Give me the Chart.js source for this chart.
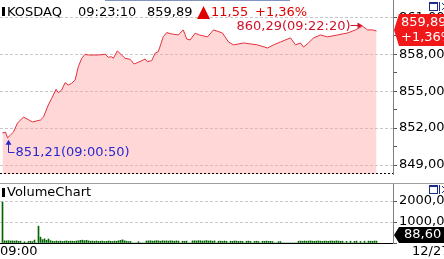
<!DOCTYPE html>
<html>
<head>
<meta charset="utf-8">
<title>KOSDAQ</title>
<script src="https://cdn.jsdelivr.net/npm/chart.js@4/dist/chart.umd.min.js"></script>
<style>
  html, body { margin: 0; padding: 0; background: #fff; overflow: hidden; }
  canvas { display: block; }
</style>
</head>
<body>
<canvas id="priceChart" width="444" height="183"></canvas>
<canvas id="volumeChart" width="444" height="76"></canvas>
<script>
// KOSDAQ intraday snapshot
const indexName = 'KOSDAQ';
const lastTime = '09:23:10';
const lastPrice = 859.89;
const change = 11.55;
const changePct = 1.36;
const startLabel = '09:00';
const dateLabel = '12/27';
const highTime = '09:22:20';
const lowTime = '09:00:50';

// price line: slot on the x axis (one slot per volume bar) and index value
const priceSlots = [0, 1.5, 2.5, 4, 5.5, 7.5, 10.5, 15, 19, 20.5,
  22.9, 24.6, 26.8, 27.9, 29.6, 31.3, 32.9, 34.6, 36.3, 37.9,
  39.6, 41.3, 42.9, 47.9, 51.3, 52.9, 54.6, 55.4, 57.4, 59.6,
  61.3, 63.8, 65.8, 67.9, 70.4, 71.3, 72.4, 74.6, 76.3, 77.9,
  80.4, 82.1, 84.6, 87.9, 90.4, 92.1, 93.8, 96.3, 98.4, 102.5,
  105.5, 110, 113, 115.5, 120.5, 127.5, 132.5, 135.5, 139, 144,
  146.5, 149, 150.5, 153, 155.5, 159, 162.5, 167.5, 172.5, 176.5,
  180, 182.5, 185, 187];
const priceValues = [851.60, 851.68, 851.21, 851.44, 851.68, 852.41, 852.90, 852.50, 852.66, 852.90,
  853.88, 854.42, 855.15, 854.88, 855.10, 855.69, 855.50, 855.64, 855.90, 856.99,
  857.67, 858.00, 857.94, 857.94, 858.00, 857.76, 857.80, 857.67, 858.27, 857.94,
  857.67, 857.59, 857.21, 857.35, 857.54, 857.62, 857.40, 857.48, 858.08, 858.21,
  859.43, 859.76, 859.65, 859.57, 859.98, 859.24, 859.16, 859.71, 859.57, 859.41,
  859.98, 859.73, 859.00, 858.76, 858.92, 858.76, 858.51, 858.76, 859.00, 859.33,
  858.76, 858.92, 858.59, 858.92, 859.33, 859.57, 859.41, 859.57, 859.73, 859.98,
  860.29, 859.98, 859.98, 859.89];

// volume per slot
const volumes = [
  1950, 105, 100, 110, 95, 100, 90, 105, 80, 85,
  0, 60, 0, 75, 85, 65, 140, 0, 800, 280,
  160, 200, 130, 190, 110, 85, 75, 95, 80, 90,
  75, 85, 100, 80, 90, 85, 75, 95, 105, 125,
  135, 110, 130, 100, 85, 90, 80, 95, 75, 85,
  90, 70, 80, 95, 85, 75, 90, 80, 105, 125,
  150, 105, 85, 70, 75, 0, 0, 0, 65, 0,
  0, 0, 95, 100, 105, 90, 95, 110, 100, 85,
  105, 95, 100, 90, 105, 95, 85, 100, 90, 0,
  85, 80, 90, 0, 0, 100, 105, 95, 110, 105,
  90, 100, 115, 95, 105, 85, 100, 0, 85, 90,
  75, 95, 80, 0, 85, 80, 95, 90, 75, 85,
  80, 0, 85, 90, 75, 0, 75, 85, 70, 0,
  85, 80, 90, 75, 80, 70, 0, 0, 65, 70,
  0, 0, 0, 0, 0, 0, 0, 0, 85, 90,
  80, 95, 85, 90, 100, 85, 80, 90, 95, 85,
  75, 90, 85, 80, 95, 90, 85, 100, 90, 80,
  85, 0, 75, 0, 85, 0, 80, 90, 0, 75,
  0, 85, 0, 90, 85, 80, 95, 88.6];

const priceTicks = [849, 850.5, 852, 853.5, 855, 856.5, 858, 859.5, 861];
const priceLabeled = [849, 852, 855, 858, 861];
const volumeTicks = [0, 500, 1000, 1500, 2000, 2500];
const volumeLabeled = [1000, 2000];
const volumeGrid = [500, 1000, 1500, 2000];

const FONT = "13px 'DejaVu Sans'";
const AXIS_W = 51;
Chart.defaults.font.family = "'DejaVu Sans'";
Chart.defaults.font.size = 13;
Chart.defaults.color = '#000';

const fmt = v => v.toFixed(2).replace('.', ',');

function drawIcons(ctx, top) {
  ctx.save();
  ctx.strokeStyle = ctx.fillStyle = '#1c2c8c';
  ctx.lineWidth = 1;
  ctx.strokeRect(429.5, top + 0.5, 8, 8);
  ctx.fillRect(429, top, 9, 2);
  ctx.beginPath();
  ctx.moveTo(439.5, top); ctx.lineTo(439.5, top + 9);
  ctx.moveTo(442, top + 1); ctx.lineTo(449, top + 8);
  ctx.moveTo(449, top + 1); ctx.lineTo(442, top + 8);
  ctx.stroke();
  ctx.restore();
}

const pricePanel = {
  id: 'pricePanel',
  afterDraw(chart) {
    const { ctx, chartArea, scales: { x, y } } = chart;
    ctx.save();
    // dotted panel bottom
    ctx.strokeStyle = '#000';
    ctx.lineWidth = 1;
    ctx.setLineDash([2, 2]);
    ctx.beginPath();
    ctx.moveTo(chartArea.left, chartArea.bottom - 0.5);
    ctx.lineTo(chartArea.right, chartArea.bottom - 0.5);
    ctx.stroke();
    ctx.setLineDash([]);

    // scroll strip at the very top
    ctx.fillStyle = '#8393bd';
    ctx.fillRect(105, 0, 185, 1);

    // header
    ctx.font = FONT;
    ctx.textBaseline = 'alphabetic';
    ctx.textAlign = 'left';
    ctx.fillStyle = '#000';
    ctx.fillRect(2, 7, 3, 9);
    ctx.fillText(indexName, 7, 16);
    ctx.fillText(lastTime, 78, 16);
    ctx.fillText(fmt(lastPrice), 147, 16);
    ctx.fillStyle = '#e00000';
    ctx.font = "17px 'DejaVu Sans'";
    ctx.fillText('▲', 197, 17);
    ctx.font = FONT;
    ctx.fillText(fmt(change), 211, 16);
    ctx.fillText('+' + fmt(changePct) + '%', 255, 16);

    // high marker
    const hiVal = Math.max(...priceValues);
    const loVal = Math.min(...priceValues);
    const hi = priceValues.indexOf(hiVal);
    const lo = priceValues.indexOf(loVal);
    const hx = x.getPixelForValue(priceSlots[hi]);
    const hy = y.getPixelForValue(hiVal);
    ctx.fillStyle = ctx.strokeStyle = '#d0142c';
    ctx.textAlign = 'right';
    ctx.textBaseline = 'middle';
    ctx.fillText(`${fmt(hiVal)}(${highTime})`, hx - 12, hy + 1);
    const ay = Math.round(hy - 1) + 0.5;
    ctx.beginPath();
    ctx.moveTo(hx - 12, ay); ctx.lineTo(hx - 3, ay);
    ctx.stroke();
    ctx.beginPath();
    ctx.moveTo(hx, ay); ctx.lineTo(hx - 5, ay - 3); ctx.lineTo(hx - 5, ay + 3);
    ctx.closePath(); ctx.fill();

    // low marker
    const lx = Math.round(x.getPixelForValue(priceSlots[lo])) + 0.5;
    const ly = y.getPixelForValue(loVal);
    const fy = Math.round(ly + 14) + 0.5;
    ctx.fillStyle = ctx.strokeStyle = '#2828d0';
    ctx.beginPath();
    ctx.moveTo(lx, ly + 5); ctx.lineTo(lx, fy); ctx.lineTo(lx + 6, fy);
    ctx.stroke();
    ctx.beginPath();
    ctx.moveTo(lx, ly + 2); ctx.lineTo(lx - 3, ly + 7); ctx.lineTo(lx + 3, ly + 7);
    ctx.closePath(); ctx.fill();
    ctx.textAlign = 'left';
    ctx.fillText(`${fmt(loVal)}(${lowTime})`, lx + 7, fy);

    // current price tag on the axis
    const ty = Math.round(y.getPixelForValue(lastPrice)) - 1;
    ctx.fillStyle = '#f01818';
    ctx.beginPath();
    ctx.moveTo(394, ty); ctx.lineTo(399, ty - 16); ctx.lineTo(444, ty - 16);
    ctx.lineTo(444, ty + 16); ctx.lineTo(399, ty + 16);
    ctx.closePath(); ctx.fill();
    ctx.fillStyle = '#fff';
    ctx.fillText(fmt(lastPrice), 401, ty - 7);
    ctx.fillText('+' + fmt(changePct) + '%', 401, ty + 8);

    drawIcons(ctx, 2);
    ctx.restore();
  }
};

const volumePanel = {
  id: 'volumePanel',
  afterDraw(chart) {
    const { ctx, chartArea, scales: { y } } = chart;
    ctx.save();
    // separator between the panels
    ctx.strokeStyle = '#a0a0a0';
    ctx.lineWidth = 1;
    ctx.beginPath();
    ctx.moveTo(0, 0.5); ctx.lineTo(444, 0.5);
    ctx.stroke();

    ctx.font = FONT;
    ctx.textBaseline = 'middle';
    ctx.textAlign = 'left';
    ctx.fillStyle = '#000';
    ctx.fillRect(2, 5, 3, 9);
    ctx.fillText('VolumeChart', 7, 10);
    ctx.fillText(dateLabel, 412, 69);

    // last volume tag
    const last = volumes[volumes.length - 1];
    const ty = Math.min(y.getPixelForValue(last), chartArea.bottom - 8);
    ctx.fillStyle = '#000';
    ctx.beginPath();
    ctx.moveTo(394, ty); ctx.lineTo(399, ty - 8); ctx.lineTo(444, ty - 8);
    ctx.lineTo(444, ty + 8); ctx.lineTo(399, ty + 8);
    ctx.closePath(); ctx.fill();
    ctx.fillStyle = '#fff';
    ctx.fillText(fmt(last), 404, ty);

    drawIcons(ctx, 2);
    ctx.restore();
  }
};

new Chart(document.getElementById('priceChart'), {
  type: 'line',
  data: {
    datasets: [{
      data: priceSlots.map((s, i) => ({ x: s, y: priceValues[i] })),
      borderColor: 'rgb(228,48,60)',
      borderWidth: 1,
      backgroundColor: 'rgba(255,160,160,0.42)',
      fill: 'start',
      pointRadius: 0,
      tension: 0
    }]
  },
  options: {
    responsive: false,
    animation: false,
    events: [],
    layout: { padding: { top: 0, left: 0, right: 0, bottom: 9 } },
    plugins: { legend: { display: false }, tooltip: { enabled: false } },
    scales: {
      x: { type: 'linear', min: -1.25, max: 195.25, display: false },
      y: {
        position: 'right',
        min: 848.27,
        max: 862.41,
        afterBuildTicks: s => { s.ticks = priceTicks.map(v => ({ value: v })); },
        afterFit: s => { s.width = AXIS_W; s.paddingTop = 0; s.paddingBottom = 0; },
        ticks: {
          padding: 2,
          color: '#000',
          callback: v => priceLabeled.includes(v) ? fmt(v) : ''
        },
        grid: {
          color: c => (c.tick && priceLabeled.includes(c.tick.value)) ? '#c8c8c8' : 'rgba(0,0,0,0)',
          tickColor: '#555',
          tickLength: 4
        },
        border: { display: true, color: '#808080', dash: [3, 2] }
      }
    }
  },
  plugins: [pricePanel]
});

new Chart(document.getElementById('volumeChart'), {
  type: 'bar',
  data: {
    datasets: [{
      data: volumes.map((v, i) => ({ x: i, y: v })),
      backgroundColor: '#006400',
      barThickness: 1
    }]
  },
  options: {
    responsive: false,
    animation: false,
    events: [],
    layout: { padding: { top: 1, left: 0, right: 0, bottom: 0 } },
    plugins: { legend: { display: false }, tooltip: { enabled: false } },
    scales: {
      x: {
        type: 'linear',
        min: -1.25,
        max: 195.25,
        offset: false,
        afterBuildTicks: s => { s.ticks = [{ value: -1.25 }]; },
        afterFit: s => { s.height = 16; s.paddingLeft = 0; s.paddingRight = 0; },
        ticks: {
          align: 'start',
          padding: 1,
          maxRotation: 0,
          autoSkip: false,
          color: '#000',
          callback: () => startLabel
        },
        grid: { display: false, drawTicks: false, offset: false },
        border: { display: true, color: '#000' }
      },
      y: {
        position: 'right',
        min: 0,
        max: 2810,
        afterBuildTicks: s => { s.ticks = volumeTicks.map(v => ({ value: v })); },
        afterFit: s => { s.width = AXIS_W; s.paddingTop = 0; s.paddingBottom = 0; },
        ticks: {
          padding: 2,
          color: '#000',
          callback: v => volumeLabeled.includes(v) ? fmt(v) : ''
        },
        grid: {
          color: c => (c.tick && volumeGrid.includes(c.tick.value)) ? '#c8c8c8' : 'rgba(0,0,0,0)',
          tickColor: '#555',
          tickLength: 4
        },
        border: { display: true, color: '#808080', dash: [3, 2] }
      }
    }
  },
  plugins: [volumePanel]
});
</script>
</body>
</html>
